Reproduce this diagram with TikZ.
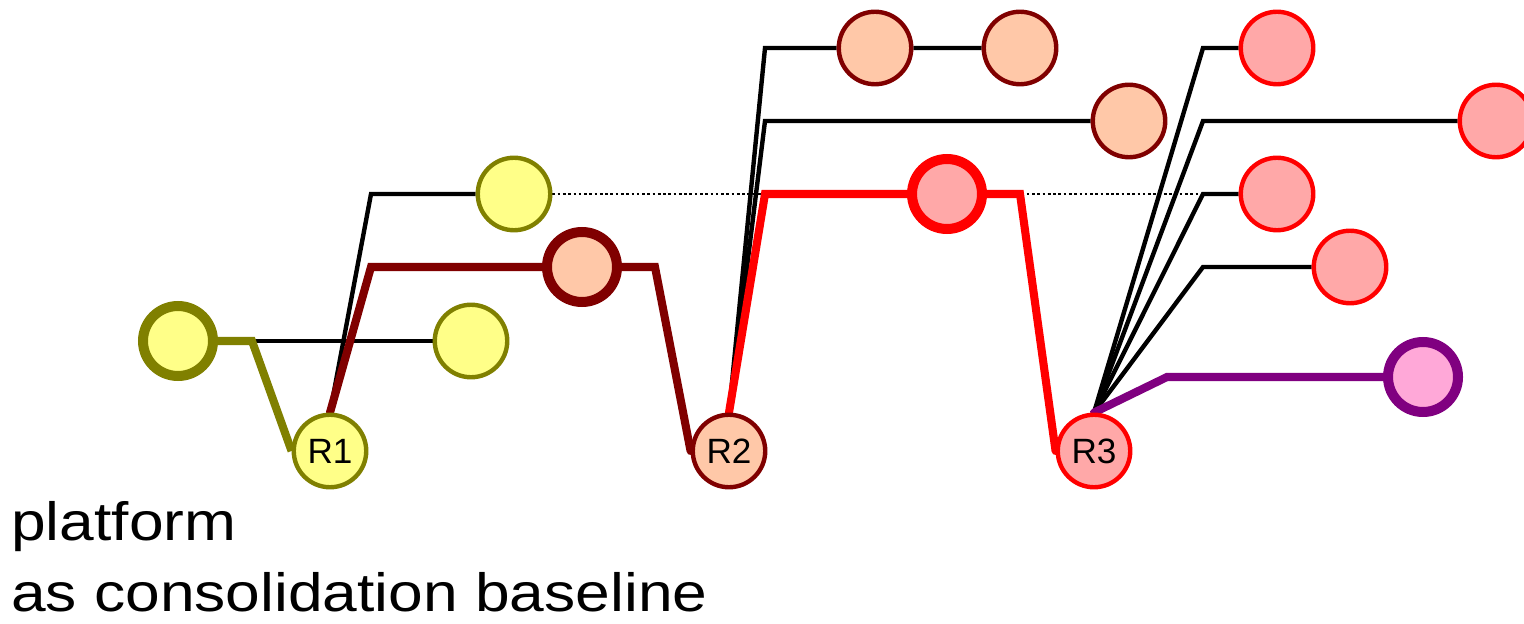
\documentclass[tikz,border=0pt]{standalone}
\usepackage{fontspec}
\setmainfont{Liberation Sans}
\newfontfamily\notefont[FakeStretch=1.155]{Liberation Sans}
\usetikzlibrary{backgrounds}

\definecolor{olivebd}{RGB}{128,128,0}
\definecolor{yelfill}{RGB}{255,255,136}
\definecolor{darkredbd}{RGB}{128,0,0}
\definecolor{salfill}{RGB}{255,200,168}
\definecolor{pinkfill}{RGB}{255,168,168}
\definecolor{purplebd}{RGB}{128,0,128}
\definecolor{magfill}{RGB}{255,168,216}

\begin{document}
\begin{tikzpicture}[x=0.02cm, y=-0.02cm,
    release/.style={circle, draw, line width=2.5pt, minimum size=1.45cm,
        inner sep=0pt, font=\fontsize{20}{24}\selectfont},
    basecirc/.style={release, line width=5.7pt, minimum size=1.4cm},
    yel/.style={fill=yelfill, draw=olivebd},
    sal/.style={fill=salfill, draw=darkredbd},
    pnk/.style={fill=pinkfill, draw=red},
    mag/.style={fill=magfill, draw=purplebd},
    link/.style={line width=2.5pt, black},
    trunk/.style={line width=4.6pt},
    hint/.style={line width=0.7pt, dash pattern=on 1.5pt off 1.5pt}]
    % pixel grid of the original, y pointing down
    \useasboundingbox (0,0) rectangle (1524,624);

    % --- Release 1 (yellow) ---
    \node[basecirc, yel] (y0) at (178,341) {};
    \node[release, yel] (r1) at (330,451) {R1};
    \node[release, yel] (y1) at (514,194) {};
    \node[release, yel] (y2) at (471,341) {};

    % --- Release 2 (salmon) ---
    \node[basecirc, sal] (sa) at (582,267) {};
    \node[release, sal] (r2) at (729,451) {R2};
    \node[release, sal] (s1) at (875,48) {};
    \node[release, sal] (s2) at (1020,48) {};
    \node[release, sal] (s3) at (1129,121) {};

    % --- Release 3 (pink) ---
    \node[basecirc, pnk] (pa) at (947,194) {};
    \node[release, pnk] (r3) at (1094,451) {R3};
    \node[release, pnk] (p1) at (1277,48) {};
    \node[release, pnk] (p2) at (1496,121) {};
    \node[release, pnk] (p3) at (1277,194) {};
    \node[release, pnk] (p4) at (1350,267) {};
    \node[basecirc, mag] (m1) at (1423,377) {};

    % bend points
    \coordinate (j0) at (252,341);
    \coordinate (j1) at (371,267);
    \coordinate (j1b) at (655,267);
    \coordinate (j2) at (765,194);
    \coordinate (j2b) at (1020,194);
    \coordinate (j3) at (1203,194);

    % --- Connectors (behind the circles) ---
    \begin{scope}[on background layer]
        \draw[hint] (y1.east) -- (j3);
        \draw[link] (j0) -- (y2.west);
        \draw[link] (r1.north) -- (371,194) -- (y1.west);
        \draw[link] (r2.north) -- (765,48) -- (s1) -- (s2);
        \draw[link] (r2.north) -- (765,121) -- (s3.west);
        \foreach \t/\yy in {p1/48, p2/121, p3/194, p4/267}
            \draw[link] (r3.north) -- (1203,\yy) -- (\t.west);
        \draw[trunk, olivebd] (y0.east) -- (j0) -- (r1.west);
        \draw[trunk, darkredbd, line cap=round] (r1.north) -- (j1) -- (sa) -- (j1b) -- (r2.west);
        \draw[trunk, red, line cap=round] (r2.north) -- (j2) -- (pa) -- (j2b) -- (r3.west);
        \draw[trunk, purplebd, line cap=round] (r3.north) -- (1167,377) -- (m1.west);
    \end{scope}

    % --- Caption ---
    \node[anchor=base west, align=left, inner sep=0pt,
        font=\notefont\fontsize{30.7}{40.4}\selectfont] (note) at (11,611)
        {platform\\as consolidation baseline};
\end{tikzpicture}
\end{document}
